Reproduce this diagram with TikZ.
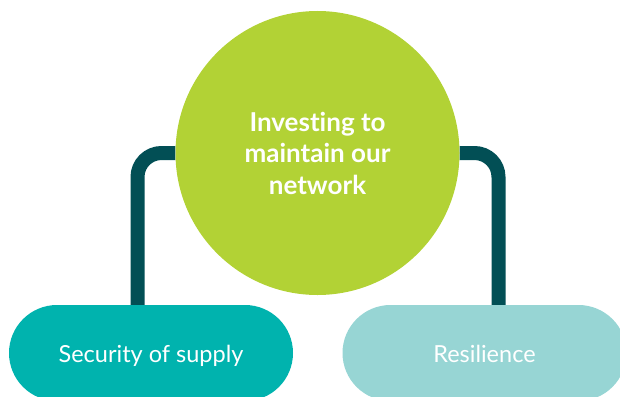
\documentclass[tikz,border=0pt]{standalone}
\usepackage{fontspec}
\setmainfont{Lato}[Ligatures=NoCommon]
\usetikzlibrary{backgrounds}
\definecolor{hubgreen}{HTML}{B2D235}
\definecolor{linkteal}{HTML}{024F55}
\definecolor{pillteal}{HTML}{00B3AE}
\definecolor{pilllight}{HTML}{97D5D4}
\tikzset{
  hubnode/.style={circle, fill=hubgreen, minimum size=284pt, inner sep=0pt, text=white,
    font=\fontsize{26}{31.5}\selectfont\bfseries, align=center},
  pill/.style={rounded corners=48pt, minimum width=284pt, minimum height=96pt, inner sep=0pt,
    text=white, font=\fontsize{23.5}{26}\selectfont, text height=20pt, text depth=0.6pt},
  link/.style={draw=linkteal, line width=14pt, rounded corners=24pt}
}
\begin{document}
\begin{tikzpicture}[x=1pt,y=-1pt]
\useasboundingbox (0,0) rectangle (620,396);
\begin{scope}
\clip (0,0) rectangle (620,396);
\node[hubnode] (hub) at (317.5,153) {Investing to\\maintain our\\network};
\node[pill, fill=pillteal] (sec) at (151,353) {Security of supply};
\node[pill, fill=pilllight] (res) at (484.5,353) {Resilience};
\coordinate (secup) at (137.5,306);
\coordinate (resup) at (498.5,306);
\begin{scope}[on background layer]
\draw[link] (secup) |- (hub);
\draw[link] (resup) |- (hub);
\end{scope}
\end{scope}
\end{tikzpicture}
\end{document}
